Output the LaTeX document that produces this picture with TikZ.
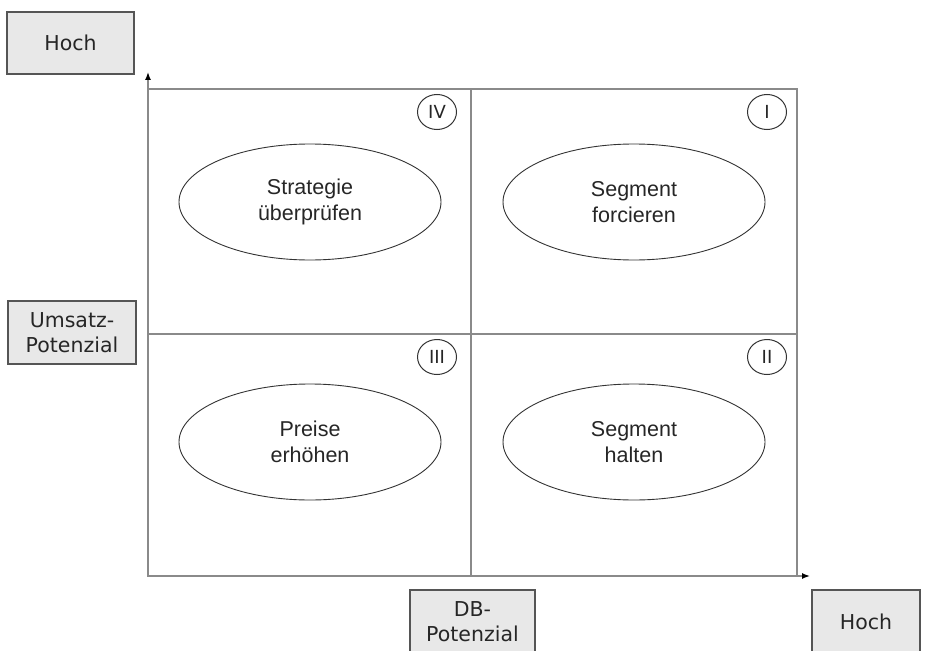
\documentclass[tikz,border=0pt]{standalone}
\usepackage{fontspec}
\setmainfont{Liberation Sans}
\newfontfamily\boxfont{DejaVu Sans}
\usetikzlibrary{shapes.geometric,arrows.meta}
\definecolor{linegray}{HTML}{8A8A8A}
\definecolor{boxfill}{HTML}{E8E8E8}
\definecolor{boxline}{HTML}{555555}
\begin{document}
\begin{tikzpicture}[x=1pt,y=-1pt,
  labelbox/.style={draw=boxline,line width=1.2pt,fill=boxfill,inner sep=0pt,
    font=\boxfont\fontsize{20.5}{25}\selectfont,align=center,text=black!85},
  grid/.style={draw=linegray,line width=1.6pt},
  axis/.style={draw=linegray,line width=1.4pt,-{Latex[length=8pt,width=6pt,color=black]}},
  oval/.style={ellipse,draw=black!80,line width=0.9pt,minimum width=262pt,minimum height=116pt,
    font=\fontsize{21.5}{26}\selectfont,align=center,text=black!85},
  numc/.style={ellipse,draw=black!80,line width=1pt,minimum width=39pt,minimum height=35pt,inner sep=0pt,
    font=\boxfont\fontsize{18}{20}\selectfont,text=black!85}]
\useasboundingbox (0,0) rectangle (928,650);
% axes
\coordinate (o) at (148,576);
\coordinate (ytip) at (148,72);
\coordinate (xtip) at (810,576);
\draw[axis] (o) -- (ytip);
\draw[axis] (o) -- (xtip);
% grid
\coordinate (tl) at (148,89);
\coordinate (br) at (797,576);
\draw[grid] (tl) rectangle (br);
\coordinate (mt) at (471,89);
\coordinate (mb) at (471,576);
\coordinate (ml) at (148,334);
\coordinate (mr) at (797,334);
\draw[grid] (mt) -- (mb);
\draw[grid] (ml) -- (mr);
% labels
\node[labelbox,minimum width=127pt,minimum height=62pt] (hochY) at (70.5,43) {Hoch};
\node[labelbox,minimum width=128pt,minimum height=63pt] (umsatz) at (72,332.5) {Umsatz-\\Potenzial};
\node[labelbox,minimum width=125pt,minimum height=64pt] (db) at (472.5,622) {DB-\\Potenzial};
\node[labelbox,minimum width=108pt,minimum height=64pt] (hochX) at (866,622) {Hoch};
% ellipses
\node[oval] (e4) at (310,202) {Strategie\\überprüfen};
\node[oval] (e1) at (634,202) {Segment\\forcieren};
\node[oval] (e3) at (310,442) {Preise\\erhöhen};
\node[oval] (e2) at (634,442) {Segment\\halten};
% numerals
\node[numc] (n4) at (437,112) {IV};
\node[numc] (n1) at (767,112) {I};
\node[numc] (n3) at (437,357) {III};
\node[numc] (n2) at (767,357) {II};
\end{tikzpicture}
\end{document}
